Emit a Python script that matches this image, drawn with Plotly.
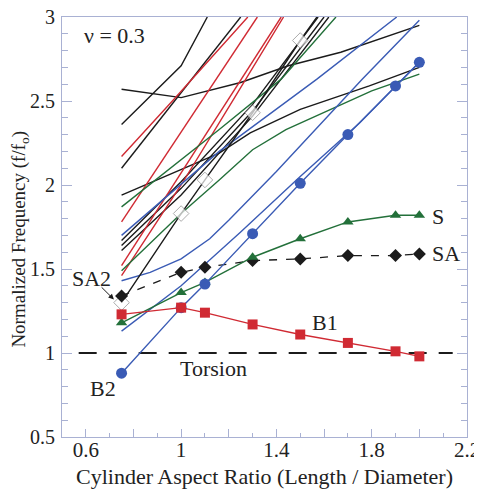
import plotly.graph_objects as go

# ---------------- data ----------------
x_modes = [0.75, 1.0, 1.1, 1.3, 1.5, 1.7, 1.9, 2.0]
b1 = [1.23, 1.27, 1.24, 1.17, 1.11, 1.06, 1.01, 0.98]
s_mode = [1.18, 1.36, 1.42, 1.57, 1.68, 1.78, 1.82, 1.82]
sa_mode = [1.34, 1.48, 1.51, 1.55, 1.56, 1.58, 1.58, 1.59]
b2 = [0.88, 1.27, 1.41, 1.71, 2.01, 2.30, 2.59, 2.73]

sa2_x = [0.75, 1.0, 1.1, 1.3, 1.5, 1.57]
sa2_y = [1.30, 1.83, 2.03, 2.43, 2.86, 3.0]
sa2_marker_size = [12, 12, 12, 12, 12, 0]

torsion_x = [0.57, 2.14]
torsion_y = [1.0, 1.0]

# other branches (unlabelled curves)
k1_x = [0.75, 1.0, 1.25, 1.45, 1.67, 2.0]
k1_y = [2.57, 2.52, 2.61, 2.71, 2.79, 2.95]
k2_x = [0.75, 1.0, 1.11]
k2_y = [2.36, 2.71, 3.0]
k3_x = [0.75, 1.0, 1.16, 1.29, 1.5, 1.79, 2.0]
k3_y = [1.94, 2.09, 2.19, 2.31, 2.45, 2.59, 2.70]
k4_x = [0.75, 1.25]
k4_y = [2.10, 3.0]
k5_x = [0.75, 1.0, 1.3, 1.575]
k5_y = [1.67, 2.02, 2.48, 3.0]
k6_x = [0.75, 1.0, 1.3, 1.60]
k6_y = [1.64, 1.98, 2.44, 3.0]
k7_x = [0.75, 1.0, 1.3, 1.62]
k7_y = [1.61, 1.94, 2.41, 3.0]

r1_x = [0.75, 0.97, 1.28]
r1_y = [2.17, 2.51, 3.0]
r2_x = [0.75, 1.09, 1.32]
r2_y = [1.78, 2.51, 3.0]
r3_x = [0.75, 0.98, 1.20, 1.42]
r3_y = [1.52, 2.03, 2.51, 3.0]
r4_x = [0.75, 1.0, 1.22, 1.43]
r4_y = [1.46, 2.0, 2.51, 3.0]

g1_x = [0.75, 1.16, 1.42, 1.65]
g1_y = [1.87, 2.33, 2.63, 3.0]
g2_x = [0.75, 1.0, 1.16, 1.30, 1.44, 1.63, 1.80, 2.0]
g2_y = [1.49, 1.83, 2.03, 2.21, 2.33, 2.45, 2.56, 2.66]

bl1_x = [0.75, 1.16, 1.57, 1.905]
bl1_y = [1.70, 2.20, 2.63, 3.0]
bl2_x = [0.75, 0.87, 1.0, 1.12, 1.2, 1.4, 1.76, 2.0]
bl2_y = [1.43, 1.48, 1.56, 1.68, 1.79, 2.08, 2.63, 2.98]
bl3_x = [0.75, 1.0, 1.25, 1.5, 1.75, 2.0]
bl3_y = [1.13, 1.40, 1.72, 2.05, 2.37, 2.73]

x_tick_vals = [0.6, 0.8, 1.0, 1.2, 1.4, 1.6, 1.8, 2.0, 2.2]
x_tick_text = ["0.6", " ", "1", " ", "1.4", " ", "1.8", " ", "2.2"]
x_minor_vals = [0.7, 0.9, 1.1, 1.3, 1.5, 1.7, 1.9, 2.1]

# ---------------- styling ----------------
BLACK = "#1b1b1b"
RED = "#d02a33"
GREEN = "#23703a"
BLUE = "#3a5bb5"
AXIS = "#a9b1d3"
FONT = "Liberation Serif"
TXT = "#222222"

fig = go.Figure()

def line(x, y, color, width=1.4, dash="solid"):
    fig.add_trace(go.Scatter(x=x, y=y, mode="lines", showlegend=False,
                             line=dict(color=color, width=width, dash=dash),
                             hoverinfo="skip"))

for xs, ys in [(k1_x, k1_y), (k2_x, k2_y), (k3_x, k3_y), (k4_x, k4_y),
               (k5_x, k5_y), (k6_x, k6_y), (k7_x, k7_y)]:
    line(xs, ys, BLACK)
for xs, ys in [(r1_x, r1_y), (r2_x, r2_y), (r3_x, r3_y), (r4_x, r4_y)]:
    line(xs, ys, RED)
for xs, ys in [(g1_x, g1_y), (g2_x, g2_y)]:
    line(xs, ys, GREEN)
for xs, ys in [(bl1_x, bl1_y), (bl2_x, bl2_y), (bl3_x, bl3_y)]:
    line(xs, ys, BLUE)

# torsion
line(torsion_x, torsion_y, BLACK, width=2.2, dash="18px,12px")

# SA2 (open diamonds)
fig.add_trace(go.Scatter(x=sa2_x, y=sa2_y, mode="lines+markers", showlegend=False,
                         line=dict(color=BLACK, width=1.4),
                         marker=dict(symbol="diamond", size=sa2_marker_size, color="white",
                                     line=dict(color="#8a8a8a", width=1))))
# SA (black diamonds dashed)
fig.add_trace(go.Scatter(x=x_modes, y=sa_mode, mode="lines+markers", showlegend=False,
                         line=dict(color=BLACK, width=1.3, dash="8px,9px"),
                         marker=dict(symbol="diamond", size=10, color=BLACK)))
# S (green triangles)
fig.add_trace(go.Scatter(x=x_modes, y=s_mode, mode="lines+markers", showlegend=False,
                         line=dict(color=GREEN, width=1.4),
                         marker=dict(symbol="triangle-up", size=10, color=GREEN)))
# B2 (blue circles)
fig.add_trace(go.Scatter(x=x_modes, y=b2, mode="lines+markers", showlegend=False,
                         line=dict(color=BLUE, width=1.4),
                         marker=dict(symbol="circle", size=11, color=BLUE)))
# B1 (red squares)
fig.add_trace(go.Scatter(x=x_modes, y=b1, mode="lines+markers", showlegend=False,
                         line=dict(color=RED, width=1.4),
                         marker=dict(symbol="square", size=10, color=RED)))

ann_font = dict(family=FONT, size=22, color=TXT)
annotations = [
    dict(x=0.722, y=2.89, text="ν = 0.3", showarrow=False, font=ann_font),
    dict(x=2.045, y=1.815, text="S", showarrow=False, xanchor="left", font=ann_font),
    dict(x=2.045, y=1.59, text="SA", showarrow=False, xanchor="left", font=ann_font),
    dict(x=1.604, y=1.18, text="B1", showarrow=False, font=ann_font),
    dict(x=1.134, y=0.91, text="Torsion", showarrow=False, font=ann_font),
    dict(x=0.672, y=0.79, text="B2", showarrow=False, font=ann_font),
    dict(x=0.724, y=1.31, ax=0.66, ay=1.40, xref="x", yref="y", axref="x", ayref="y",
         text="", showarrow=True, arrowhead=2, arrowsize=1.1, arrowwidth=1,
         arrowcolor=BLACK, standoff=2),
    dict(x=0.625, y=1.445, text="SA2", showarrow=False, font=ann_font),
    # axis titles
    dict(x=0.5, y=0, xref="paper", yref="paper", yanchor="middle", yshift=-39,
         text="Cylinder Aspect Ratio (Length / Diameter)", showarrow=False,
         font=dict(family=FONT, size=22, color=TXT)),
    dict(x=0, y=0.47, xref="paper", yref="paper", xanchor="center", xshift=-42,
         text="Normalized Frequency (f/f<sub>o</sub>)", textangle=-90, showarrow=False,
         font=dict(family=FONT, size=19, color=TXT)),
]

# the page body adds an 8px offset; the figure is sized so the plot area lands
# at the reference position (left 62, top 17, right 467, bottom 437)
fig.update_layout(
    width=474, height=481,
    margin=dict(l=54, r=15, t=9, b=52),
    paper_bgcolor="white", plot_bgcolor="white",
    font=dict(family=FONT, size=21, color=TXT),
    annotations=annotations,
    xaxis=dict(range=[0.5, 2.2], showgrid=False, zeroline=False, automargin=False,
               showline=True, linecolor=AXIS, linewidth=1, mirror=True,
               tickmode="array", tickvals=x_tick_vals, ticktext=x_tick_text,
               ticks="inside", ticklen=8, tickcolor=AXIS, tickwidth=1,
               ticklabelstandoff=-6, ticklabeloverflow="allow",
               minor=dict(tickvals=x_minor_vals, ticks="inside", ticklen=4,
                          tickcolor=AXIS, tickwidth=1, showgrid=False),
               tickfont=dict(family=FONT, size=21, color=TXT)),
    yaxis=dict(range=[0.5, 3.0], showgrid=False, zeroline=False, automargin=False,
               showline=True, linecolor=AXIS, linewidth=1, mirror="ticks",
               tickmode="linear", tick0=0.5, dtick=0.5,
               ticks="inside", ticklen=10, tickcolor=AXIS, tickwidth=1,
               ticklabelstandoff=2, ticklabeloverflow="allow",
               minor=dict(dtick=0.1, ticks="inside", ticklen=6,
                          tickcolor=AXIS, tickwidth=1, showgrid=False),
               tickfont=dict(family=FONT, size=20, color=TXT)),
)

fig.write_html("out.html")
